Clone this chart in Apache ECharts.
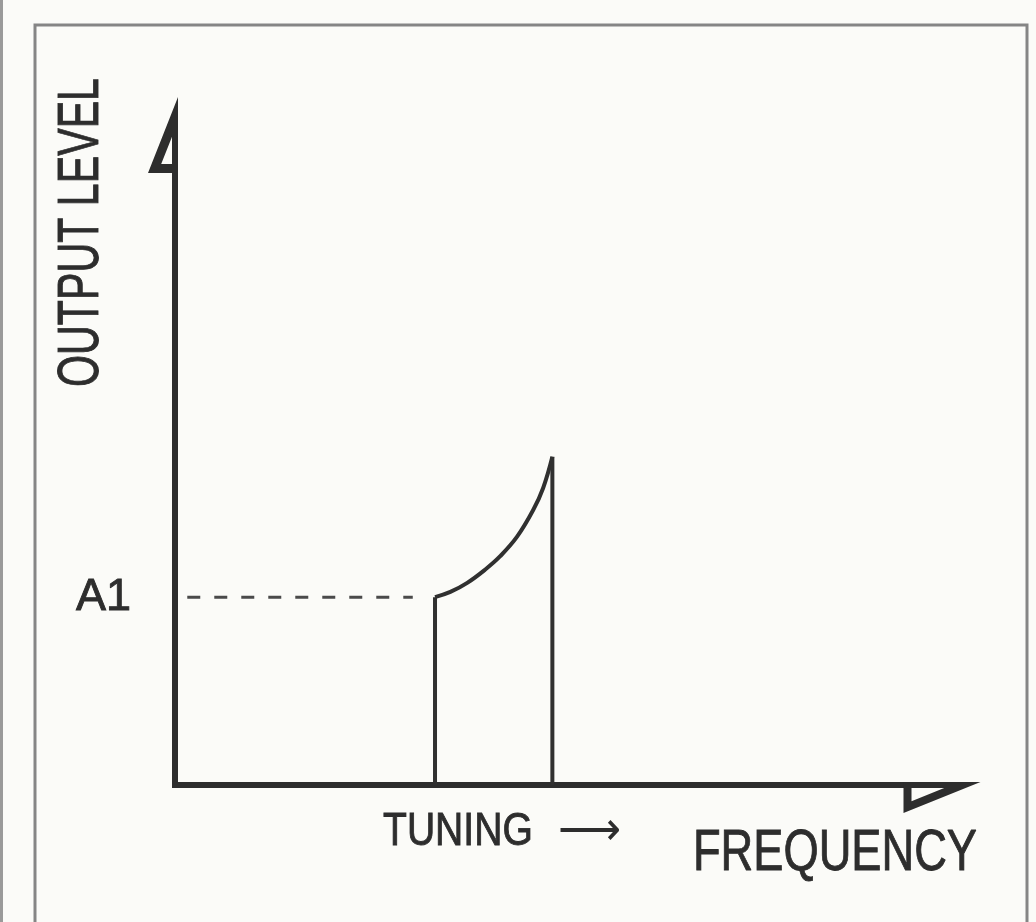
<!DOCTYPE html>
<html>
<head>
<meta charset="utf-8">
<style>
  html, body { margin: 0; padding: 0; background: #fbfbf8; }
  #chart { width: 1036px; height: 922px; }
</style>
<script src="https://cdn.jsdelivr.net/npm/echarts@6/dist/echarts.min.js"></script>
</head>
<body>
<div id="chart"></div>
<script>
// Output level of a tuned source as it is swept upward in frequency.
const xRange = [0, 100];            // frequency axis extent
const yRange = [0, 100];            // output level axis extent
const tuneStart = 33.9;             // frequency where tuning begins
const tuneEnd = 49.2;               // frequency where the sweep stops
const levelA1 = 28.9;               // starting output level, A1
const curveFreq = [33.9, 35.9, 38.1, 40.4, 42.4, 44.6, 46.7, 48.0, 49.2];
const curveLevel = [28.9, 29.7, 31.1, 33.1, 35.2, 38.2, 42.3, 45.7, 50.5];
const refFreq = [1.6, 31.0];        // extent of the dashed A1 guide
const levelTicks = [levelA1];
const levelTickNames = ['A1'];
const yTitle = 'OUTPUT LEVEL';
const xTitle = 'FREQUENCY';
const sweepTitle = 'TUNING';
const sweepArrow = '\u27F6';

const ink = '#2d2d2d';
const font = "'Liberation Sans', Arial, sans-serif";

// half-arrowheads drawn as hollow triangles (outer outline minus inner hole)
const yArrow = 'path://M27 0M3 0L-27 76L3 76ZM-3 39.7L-3 67L-13.8 67Z';
const xArrow = 'path://M-28 0M-3 0L28 77L-3 77ZM3 36.3L3 69L16.2 69Z';

const curveData = curveFreq.map((f, i) => [f, curveLevel[i]]);

// slightly heavier strokes on the lettering
const textWeight = { stroke: ink, lineWidth: 0.9 };

const chart = echarts.init(document.getElementById('chart'), null, { renderer: 'canvas' });
chart.setOption({
  backgroundColor: '#fbfbf8',
  animation: false,
  grid: { left: 175, top: 135, width: 767, height: 650 },
  xAxis: {
    type: 'value', min: xRange[0], max: xRange[1],
    axisLine: {
      show: true, onZero: false,
      symbol: ['none', xArrow], symbolSize: [56, 77],
      lineStyle: { color: ink, width: 6, cap: 'square' }
    },
    axisTick: { show: false }, axisLabel: { show: false }, splitLine: { show: false }
  },
  yAxis: {
    type: 'value', min: yRange[0], max: yRange[1],
    axisLine: {
      show: true, onZero: false,
      symbol: ['none', yArrow], symbolSize: [54, 76],
      lineStyle: { color: ink, width: 6, cap: 'square' }
    },
    axisTick: { show: false },
    axisLabel: {
      show: true, customValues: levelTicks, margin: 44,
      formatter: v => levelTickNames[levelTicks.indexOf(v)] || '',
      color: ink, fontSize: 45, fontFamily: font, padding: [8, 0, 0, 0],
      textBorderColor: ink, textBorderWidth: 0.9
    },
    splitLine: { show: false }
  },
  series: [
    {
      name: 'A1 guide', type: 'line', symbol: 'none', silent: true,
      data: [[refFreq[0], levelA1], [refFreq[1], levelA1]],
      lineStyle: { color: '#4a4a4a', width: 3, type: [13, 14] }
    },
    {
      name: 'tuning start', type: 'line', symbol: 'none', silent: true,
      data: [[tuneStart, yRange[0]], [tuneStart, levelA1]],
      lineStyle: { color: '#303030', width: 4 }
    },
    {
      name: 'level rise', type: 'line', symbol: 'none', silent: true,
      smooth: 0.4,
      data: curveData,
      lineStyle: { color: '#303030', width: 4 }
    },
    {
      name: 'tuning end', type: 'line', symbol: 'none', silent: true,
      data: [[tuneEnd, curveLevel[curveLevel.length - 1]], [tuneEnd, yRange[0]]],
      lineStyle: { color: '#303030', width: 4 }
    }
  ],
  graphic: [
    { type: 'rect', silent: true, shape: { x: 35, y: 25, width: 992, height: 930 },
      style: { fill: 'none', stroke: '#858585', lineWidth: 3 } },
    { type: 'line', silent: true, shape: { x1: 1.5, y1: 0, x2: 1.5, y2: 922 },
      style: { stroke: '#9a9a9a', lineWidth: 3 } },
    { type: 'text', silent: true, x: 82, y: 78, rotation: Math.PI / 2, scaleX: 0.71,
      style: Object.assign({ text: yTitle, fill: ink, font: '58px ' + font, align: 'right', verticalAlign: 'middle' }, textWeight) },
    { type: 'text', silent: true, x: 383, y: 832, scaleX: 0.85,
      style: Object.assign({ text: sweepTitle, fill: ink, font: '46px ' + font, align: 'left', verticalAlign: 'middle' }, textWeight) },
    { type: 'text', silent: true, x: 558, y: 833,
      style: { text: sweepArrow, fill: ink, font: '200 44px "DejaVu Sans"', align: 'left', verticalAlign: 'middle' } },
    { type: 'text', silent: true, x: 977, y: 854, scaleX: 0.78,
      style: Object.assign({ text: xTitle, fill: ink, font: '58px ' + font, align: 'right', verticalAlign: 'middle' }, textWeight) }
  ]
});
</script>
</body>
</html>
